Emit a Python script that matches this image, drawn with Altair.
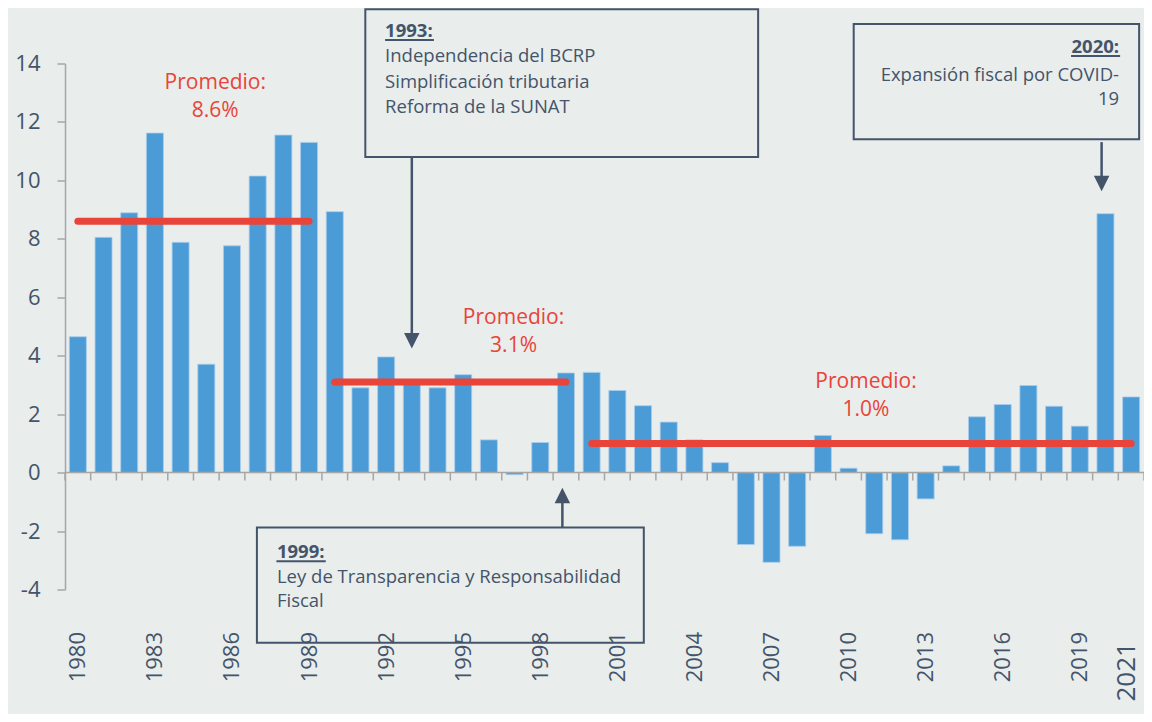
import altair as alt
import pandas as pd

# ---------------- data ----------------
years = list(range(1980, 2022))
values = [4.65, 8.05, 8.89, 11.62, 7.88, 3.71, 7.76, 10.15, 11.55, 11.30,
          8.93, 2.90, 3.96, 3.15, 2.90, 3.35, 1.12, -0.07, 1.03, 3.41,
          3.43, 2.81, 2.29, 1.73, 1.12, 0.34, -2.46, -3.07, -2.52, 1.27,
          0.15, -2.09, -2.30, -0.90, 0.23, 1.91, 2.33, 2.98, 2.27, 1.59,
          8.86, 2.59]

period_start = [1980, 1990, 2000]
period_end = [1989, 1999, 2021]
period_avg = [8.6, 3.1, 1.0]
period_text = ["8.6%", "3.1%", "1.0%"]

x_tick_labels = list(range(1980, 2020, 3))
y_tick_labels = list(range(-4, 16, 2))

# ---------------- annotation layout (data units) ----------------
avg_x = [1985.35, 1996.96, 2010.68]
avg_y1 = [13.33, 5.30, 3.11]
avg_y2 = [12.37, 4.32, 2.13]

box_x = [1991.19, 2010.20, 1986.97]
box_x2 = [2006.48, 2021.31, 2002.03]
box_y = [15.86, 15.35, -1.88]
box_y2 = [10.80, 11.41, -5.82]

head_x = ["1993:", "2020:", "1999:"]
head_px = [1991.96, 2020.53, 1987.75]
head_py = [15.11, 14.55, -2.72]
head_align = ["left", "right", "left"]

body_text = ["Independencia del BCRP", "Simplificación tributaria", "Reforma de la SUNAT",
             "Expansión fiscal por COVID-", "19",
             "Ley de Transparencia y Responsabilidad", "Fiscal"]
body_px = [1991.96, 1991.96, 1991.96, 2020.53, 2020.53, 1987.75, 1987.75]
body_py = [14.25, 13.38, 12.52, 13.62, 12.80, -3.56, -4.40]
body_align = ["left", "left", "left", "right", "right", "left", "left"]

ul_x = [1991.96, 2018.66, 1987.73]
ul_x2 = [1993.86, 2020.57, 1989.65]
ul_y = [14.80, 14.26, -3.03]

arrow_x = [1993.0, 2019.85, 1998.86]
arrow_from = [10.80, 11.31, -1.88]
arrow_to = [4.60, 10.00, -0.90]
arrow_head_y = [4.51, 9.89, -0.78]
arrow_dir = ["down", "down", "up"]

last_label_x = 2020.85
last_label_y = -5.80

# ---------------- styles ----------------
BG = "#e9edec"
BAR = "#4b9bd7"
RED = "#e8443a"
INK = "#44546a"
GRAY = "#a6a6a6"
FONT = "Open Sans"

xs = alt.Scale(domain=[1979.5, 2021.5], nice=False, zero=False, padding=0)
ys = alt.Scale(domain=[-4, 14], nice=False, zero=False, padding=0)

x_axis = alt.Axis(values=x_tick_labels, format="d", labelAngle=270, domain=False,
                  ticks=False, tickSize=0, labelPadding=42, grid=False, title=None,
                  labelFont=FONT, labelFontSize=22, labelColor=INK,
                  labelFlush=False, labelOverlap=False, labelBound=False)
y_axis = alt.Axis(values=y_tick_labels, labelExpr="'' + datum.value", grid=False, title=None,
                  domainColor=GRAY, domainWidth=1.5, tickColor=GRAY, tickWidth=1.5,
                  tickSize=8, labelPadding=17, labelFont=FONT, labelFontSize=22,
                  labelColor=INK)


def X(f):
    return alt.X(f, scale=xs, axis=x_axis, title=None)


def Y(f):
    return alt.Y(f, scale=ys, axis=y_axis, title=None)


bars_df = pd.DataFrame({"year": years, "value": values})
periods_df = pd.DataFrame({"start": period_start, "end": period_end,
                           "avg": period_avg, "txt": period_text,
                           "lx": avg_x, "ly1": avg_y1, "ly2": avg_y2})
bounds_df = pd.DataFrame({"b": [y - 0.5 for y in years] + [years[-1] + 0.5]})
zero_df = pd.DataFrame({"a": [years[0] - 0.5], "b": [years[-1] + 0.5], "z": [0.0]})
boxes_df = pd.DataFrame({"x": box_x, "x2": box_x2, "y": box_y, "y2": box_y2})
heads_df = pd.DataFrame({"t": head_x, "x": head_px, "y": head_py, "al": head_align})
body_df = pd.DataFrame({"t": body_text, "x": body_px, "y": body_py, "al": body_align})
ul_df = pd.DataFrame({"x": ul_x, "x2": ul_x2, "y": ul_y})
arrows_df = pd.DataFrame({"x": arrow_x, "y": arrow_from, "y2": arrow_to,
                          "hy": arrow_head_y, "dir": arrow_dir})
last_df = pd.DataFrame({"x": [last_label_x], "t": [str(years[-1])], "y": [last_label_y]})

bars = alt.Chart(bars_df).mark_bar(size=17, color=BAR, stroke="#a9cdec", strokeWidth=0.8).encode(
    x=X("year:Q"), y=Y("value:Q"),
)

zero_line = alt.Chart(zero_df).mark_rule(color=GRAY, strokeWidth=1.5).encode(
    x=X("a:Q"), x2="b:Q", y=Y("z:Q"),
)

ticks = alt.Chart(bounds_df).transform_calculate(z="0", z2="-0.27").mark_rule(
    color=GRAY, strokeWidth=1.5).encode(
    x=X("b:Q"), y=Y("z:Q"), y2="z2:Q",
)

avg_lines = alt.Chart(periods_df).mark_rule(color=RED, strokeWidth=7, strokeCap="round").encode(
    x=X("start:Q"), x2="end:Q", y=Y("avg:Q"),
)

avg_t1 = alt.Chart(periods_df).mark_text(color=RED, font=FONT, fontSize=21, align="center",
                                         baseline="middle").encode(
    x=X("lx:Q"), y=Y("ly1:Q"), text=alt.value("Promedio:"),
)
avg_t2 = alt.Chart(periods_df).mark_text(color=RED, font=FONT, fontSize=21, align="center",
                                         baseline="middle").encode(
    x=X("lx:Q"), y=Y("ly2:Q"), text="txt:N",
)

boxes = alt.Chart(boxes_df).mark_rect(fill=None, stroke=INK, strokeWidth=2).encode(
    x=X("x:Q"), x2="x2:Q", y=Y("y:Q"), y2="y2:Q",
)

heads_l = alt.Chart(heads_df).transform_filter("datum.al == 'left'").mark_text(
    color=INK, font=FONT, fontSize=18.5, fontWeight="bold", align="left", baseline="middle").encode(
    x=X("x:Q"), y=Y("y:Q"), text="t:N")
heads_r = alt.Chart(heads_df).transform_filter("datum.al == 'right'").mark_text(
    color=INK, font=FONT, fontSize=18.5, fontWeight="bold", align="right", baseline="middle").encode(
    x=X("x:Q"), y=Y("y:Q"), text="t:N")

body_l = alt.Chart(body_df).transform_filter("datum.al == 'left'").mark_text(
    color=INK, font=FONT, fontSize=18.5, align="left", baseline="middle").encode(
    x=X("x:Q"), y=Y("y:Q"), text="t:N")
body_r = alt.Chart(body_df).transform_filter("datum.al == 'right'").mark_text(
    color=INK, font=FONT, fontSize=18.5, align="right", baseline="middle").encode(
    x=X("x:Q"), y=Y("y:Q"), text="t:N")

underlines = alt.Chart(ul_df).mark_rule(color=INK, strokeWidth=2).encode(
    x=X("x:Q"), x2="x2:Q", y=Y("y:Q"),
)

shafts = alt.Chart(arrows_df).mark_rule(color=INK, strokeWidth=2.5).encode(
    x=X("x:Q"), y=Y("y:Q"), y2="y2:Q",
)
head_down = alt.Chart(arrows_df).transform_filter("datum.dir == 'down'").mark_point(
    shape="M-1,-1L1,-1L0,1Z", size=240, filled=True, color=INK, opacity=1).encode(
    x=X("x:Q"), y=Y("hy:Q"))
head_up = alt.Chart(arrows_df).transform_filter("datum.dir == 'up'").mark_point(
    shape="M-1,1L1,1L0,-1Z", size=240, filled=True, color=INK, opacity=1).encode(
    x=X("x:Q"), y=Y("hy:Q"))

last_label = alt.Chart(last_df).mark_text(color=INK, font=FONT, fontSize=26, angle=270,
                                          align="right", baseline="middle").encode(
    x=X("x:Q"), y=Y("y:Q"), text="t:N")

chart = alt.layer(
    bars, zero_line, ticks, avg_lines, avg_t1, avg_t2,
    boxes, heads_l, heads_r, body_l, body_r, underlines,
    shafts, head_down, head_up, last_label,
).properties(
    width=1079, height=526,
    autosize=alt.AutoSizeParams(type="none"),
    padding={"left": 57, "top": 55.5, "right": 0, "bottom": 124.5},
    background=BG,
).configure_view(stroke=None)

chart.save("out.html", embed_options={"renderer": "svg", "actions": False})
